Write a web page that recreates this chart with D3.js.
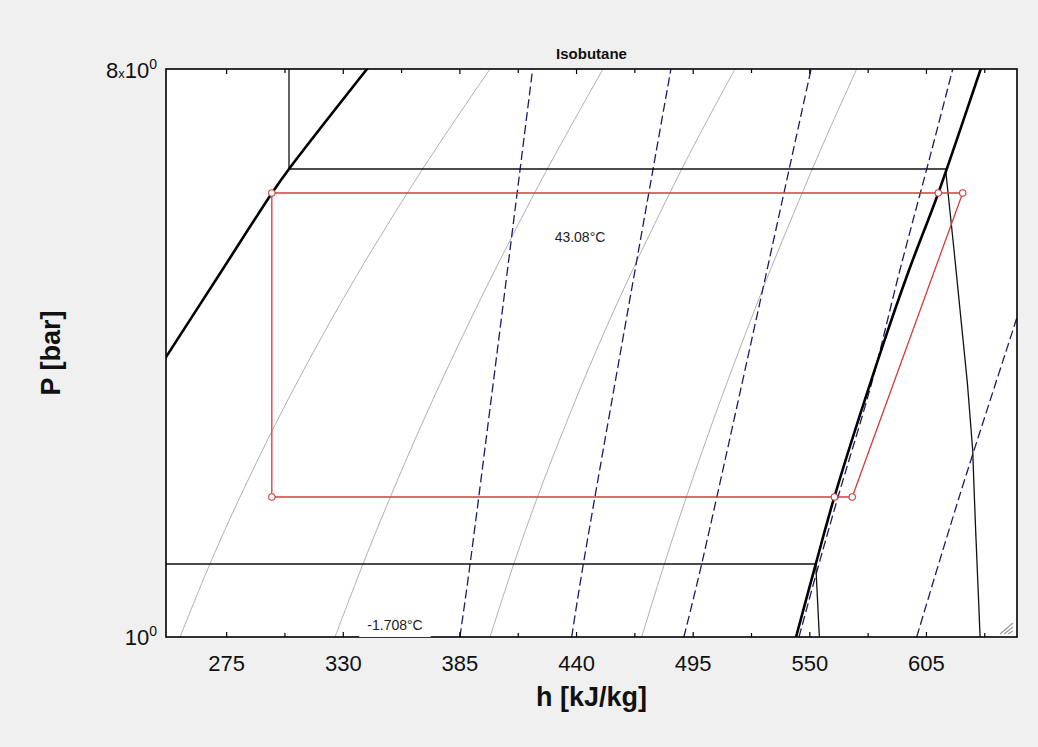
<!DOCTYPE html>
<html><head><meta charset="utf-8">
<script src="https://cdn.jsdelivr.net/npm/d3@7"></script>
<style>
body{margin:0;background:#f0f0f0;}
svg{display:block;font-family:Arial,"Liberation Sans",sans-serif;}
</style>
</head><body>
<svg id="c" width="1038" height="747"></svg>
<script>
// ---------- data (h in kJ/kg, P in bar) ----------
const chartTitle = "Isobutane";
const xTitle = "h [kJ/kg]";
const yTitle = "P [bar]";
const hDomain = [246.4, 647.7];
const pDomain = [1, 8];
const majorTicks = [275, 330, 385, 440, 495, 550, 605];
const minorTicks = [302.5, 357.5, 412.5, 467.5, 522.5, 577.5, 632.5];

// saturation dome
const satLiqH = [238.9, 246.4, 271.4, 296.4, 304.4, 341.2, 345.0];
const satLiqP = [2.544, 2.787, 3.763, 5.081, 5.547, 8.0, 8.30];
const satVapH = [541.8, 543.5, 552.8, 561.6, 584.5, 596.8, 610.6, 630.6, 633.7];
const satVapP = [0.954, 1.0, 1.306, 1.670, 2.913, 3.833, 5.081, 8.0, 8.58];

// refrigeration cycle
const cycleH = [570.0, 622.1, 610.6, 296.3, 296.3, 561.6];
const cycleP = [1.6695, 5.081, 5.081, 5.081, 1.6695, 1.6695];

// isotherms
const isoT1Label = "43.08°C";
const isoT1H = [304.4, 304.4, 614.0, 618.0, 624.3, 626.8, 627.6, 628.2, 630.3, 630.5];
const isoT1P = [8.5, 5.547, 5.547, 4.124, 2.534, 1.983, 1.6695, 1.4795, 1.0, 0.97];
const isoT2Label = "-1.708°C";
const isoT2H = [240.0, 552.8, 553.4, 554.5, 554.6];
const isoT2P = [1.3064, 1.3064, 1.1878, 1.0, 0.98];

// isentropes (dashed)
const isenH = [
  [385.0, 389.8, 419.3],
  [437.7, 443.2, 484.5],
  [490.6, 499.0, 550.6],
  [544.9, 554.3, 563.3, 578.9, 592.5, 607.5, 617.4],
  [600.4, 620.0, 647.6, 651.8]
];
const isenP = [
  [1.0, 1.3064, 8.0],
  [1.0, 1.3064, 8.0],
  [1.0, 1.3064, 8.0],
  [1.0, 1.3064, 1.6695, 2.516, 3.833, 5.947, 8.0],
  [1.0, 1.6513, 3.215, 3.562]
];

// isochores (grey)
const isochoreP = [1, 1.3064, 1.6695, 2.2131, 2.8336, 3.6952, 5.081, 6.169, 8.0];
const isochoreH = [
  [253.0, 267.1, 281.3, 299.0, 315.8, 335.1, 360.2, 376.4, 399.2],
  [326.1, 339.3, 352.2, 367.9, 382.6, 399.2, 420.2, 433.7, 452.5],
  [399.2, 410.4, 421.6, 435.7, 448.9, 464.2, 484.0, 496.7, 514.7],
  [470.7, 481.4, 491.8, 504.5, 516.3, 529.5, 546.4, 557.1, 572.1]
];

// ---------- layout ----------
const L = 166, R = 1017, T = 69, B = 637;
const svg = d3.select("#c");
const x = d3.scaleLinear().domain(hDomain).range([L, R]);
const y = d3.scaleLog().domain(pDomain).range([B, T]);

svg.append("rect").attr("width", 1038).attr("height", 747).attr("fill", "#f0f0f0");
svg.append("rect").attr("x", L).attr("y", T).attr("width", R - L).attr("height", B - T).attr("fill", "#fff");

svg.append("clipPath").attr("id", "clip").append("rect")
  .attr("x", L).attr("y", T).attr("width", R - L).attr("height", B - T);
const g = svg.append("g").attr("clip-path", "url(#clip)");

const zip = (hs, ps) => hs.map((h, i) => [h, ps[i]]);
const smooth = d3.line().x(d => x(d[0])).y(d => y(d[1])).curve(d3.curveCatmullRom.alpha(0.5));
const straight = d3.line().x(d => x(d[0])).y(d => y(d[1]));

// isochores
isochoreH.forEach(hs => {
  g.append("path").attr("d", smooth(zip(hs, isochoreP)))
    .attr("fill", "none").attr("stroke", "#b0b0b0").attr("stroke-width", 1);
});
// isentropes
isenH.forEach((hs, i) => {
  g.append("path").attr("d", smooth(zip(hs, isenP[i])))
    .attr("fill", "none").attr("stroke", "#1c1c66").attr("stroke-width", 1.3)
    .attr("stroke-dasharray", "9,4");
});
// isotherms
[[isoT1H, isoT1P], [isoT2H, isoT2P]].forEach(([hs, ps]) => {
  g.append("path").attr("d", straight(zip(hs, ps)))
    .attr("fill", "none").attr("stroke", "#111").attr("stroke-width", 1.3);
});
// saturation dome
[[satLiqH, satLiqP], [satVapH, satVapP]].forEach(([hs, ps]) => {
  g.append("path").attr("d", smooth(zip(hs, ps)))
    .attr("fill", "none").attr("stroke", "#000").attr("stroke-width", 2.6);
});
// cycle
const cyc = zip(cycleH, cycleP);
g.append("path").attr("d", straight(cyc) + "Z")
  .attr("fill", "none").attr("stroke", "#d23c3c").attr("stroke-width", 1.3);
g.selectAll("circle.pt").data(cyc).enter().append("circle")
  .attr("cx", d => x(d[0])).attr("cy", d => y(d[1])).attr("r", 3.2)
  .attr("fill", "#fff").attr("stroke", "#d23c3c").attr("stroke-width", 1.1);

// labels with white background
function boxLabel(txt, cx, cy, size, pad) {
  const t = svg.append("text").attr("x", cx).attr("y", cy).attr("text-anchor", "middle")
    .attr("dominant-baseline", "central").attr("font-size", size).attr("fill", "#222").text(txt);
  const bb = t.node().getBBox();
  svg.insert("rect", () => t.node()).attr("x", bb.x - pad).attr("y", bb.y - pad / 2)
    .attr("width", bb.width + 2 * pad).attr("height", bb.height + pad).attr("fill", "#fff");
}

// frame
svg.append("rect").attr("x", L).attr("y", T).attr("width", R - L).attr("height", B - T)
  .attr("fill", "none").attr("stroke", "#000").attr("stroke-width", 1.6);

// ticks
const allTicks = majorTicks.concat(minorTicks);
allTicks.forEach(v => {
  const len = majorTicks.includes(v) ? 5 : 4;
  svg.append("line").attr("x1", x(v)).attr("x2", x(v)).attr("y1", T).attr("y2", T + len)
    .attr("stroke", "#000").attr("stroke-width", 1.2);
  svg.append("line").attr("x1", x(v)).attr("x2", x(v)).attr("y1", B).attr("y2", B - len)
    .attr("stroke", "#000").attr("stroke-width", 1.2);
});
svg.append("g").selectAll("text").data(majorTicks).enter().append("text")
  .attr("x", d => x(d)).attr("y", 671).attr("text-anchor", "middle")
  .attr("font-size", 22).attr("fill", "#111").text(d => d);

// temperature labels
boxLabel(isoT1Label, 580, 237, 14, 6);
boxLabel(isoT2Label, 395, 625, 14, 8);

// y tick labels (log)
const yTop = svg.append("text").attr("x", 157).attr("y", 78).attr("text-anchor", "end").attr("fill", "#111");
yTop.append("tspan").attr("font-size", 22).text("8");
yTop.append("tspan").attr("font-size", 13).text("x");
yTop.append("tspan").attr("font-size", 22).text("10");
yTop.append("tspan").attr("font-size", 14).attr("dy", -9).text("0");
const yBot = svg.append("text").attr("x", 157).attr("y", 645).attr("text-anchor", "end").attr("fill", "#111");
yBot.append("tspan").attr("font-size", 22).text("10");
yBot.append("tspan").attr("font-size", 14).attr("dy", -9).text("0");

// titles
svg.append("text").attr("x", (L + R) / 2).attr("y", 59).attr("text-anchor", "middle")
  .attr("font-size", 15).attr("font-weight", "bold").attr("fill", "#111").text(chartTitle);
svg.append("text").attr("x", (L + R) / 2).attr("y", 706).attr("text-anchor", "middle")
  .attr("font-size", 27).attr("font-weight", "bold").attr("fill", "#111").text(xTitle);
svg.append("text").attr("transform", `translate(60,${(T + B) / 2}) rotate(-90)`).attr("text-anchor", "middle")
  .attr("font-size", 27).attr("font-weight", "bold").attr("fill", "#111").text(yTitle);

// resize grip
[0, 4, 8].forEach(o => {
  svg.append("line").attr("x1", R - 4).attr("y1", B - 14 + o).attr("x2", R - 17 + o).attr("y2", B - 3)
    .attr("stroke", "#9a9a9a").attr("stroke-width", 1.2);
});
</script>
</body></html>
